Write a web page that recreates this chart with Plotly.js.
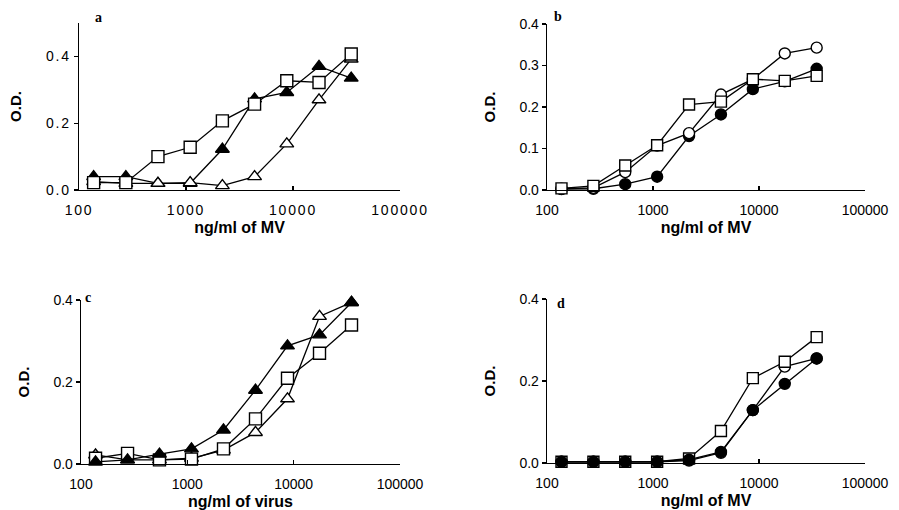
<!DOCTYPE html>
<html>
<head>
<meta charset="utf-8">
<script src="https://cdn.plot.ly/plotly-3.0.1.min.js"></script>
<style>
html,body{margin:0;padding:0;background:#fff;}
#chart{width:899px;height:510px;}
.xtick text, .ytick text { letter-spacing: 1.8px; }
</style>
</head>
<body>
<div id="chart"></div>
<script>
// Shared concentration series (ng/ml)
const conc = [137, 274, 547, 1094, 2188, 4375, 8750, 17500, 35000];
const xTickVals = [100, 1000, 10000, 100000];
const xTickText = ["100", "1000", "10000", "100000"];

// Panel a (ng/ml of MV)
const aOpenSquare   = [0.022, 0.022, 0.100, 0.128, 0.207, 0.257, 0.327, 0.322, 0.407];
const aFilledTri    = [0.040, 0.040, 0.020, 0.020, 0.122, 0.273, 0.292, 0.370, 0.335];
const aOpenTri      = [0.025, 0.020, 0.020, 0.022, 0.013, 0.040, 0.138, 0.270, 0.392];

// Panel b (ng/ml of MV)
const bOpenCircle   = [0.003, 0.005, 0.043, 0.107, 0.137, 0.230, 0.267, 0.329, 0.343];
const bFilledCircle = [0.002, 0.003, 0.014, 0.032, 0.130, 0.182, 0.243, 0.262, 0.292];
const bOpenSquare   = [0.004, 0.010, 0.059, 0.108, 0.206, 0.213, 0.267, 0.263, 0.275];

// Panel c (ng/ml of virus)
const cFilledTri    = [0.005, 0.010, 0.024, 0.037, 0.083, 0.180, 0.288, 0.315, 0.394];
const cOpenTri      = [0.022, 0.010, 0.010, 0.014, 0.034, 0.077, 0.159, 0.360, 0.394];
const cOpenSquare   = [0.014, 0.026, 0.010, 0.012, 0.037, 0.110, 0.209, 0.270, 0.339];

// Panel d (ng/ml of MV)
const dOpenSquare   = [0.003, 0.003, 0.003, 0.003, 0.011, 0.078, 0.207, 0.247, 0.307];
const dOpenCircle   = [0.003, 0.003, 0.003, 0.003, 0.006, 0.025, 0.129, 0.235, 0.255];
const dFilledCircle = [0.003, 0.003, 0.003, 0.003, 0.008, 0.027, 0.129, 0.193, 0.255];

const panelLabels = ["a", "b", "c", "d"];
const xTitles = ["ng/ml of MV", "ng/ml of MV", "ng/ml of virus", "ng/ml of MV"];

function series(y, symbol, filled, xa, ya, size) {
  return {
    x: conc, y: y, xaxis: xa, yaxis: ya,
    type: "scatter", mode: "lines+markers",
    cliponaxis: false, showlegend: false,
    line: {color: "#000", width: 1.3},
    marker: {
      symbol: symbol, size: size,
      color: filled ? "#000" : "#fff",
      line: {color: "#000", width: 1.4}
    }
  };
}

const data = [
  // a
  series(aFilledTri, "triangle-up", true, "x", "y", 12),
  series(aOpenTri, "triangle-up", false, "x", "y", 12),
  series(aOpenSquare, "square", false, "x", "y", 12),
  // b
  series(bFilledCircle, "circle", true, "x2", "y2", 11),
  series(bOpenCircle, "circle", false, "x2", "y2", 11),
  series(bOpenSquare, "square", false, "x2", "y2", 11),
  // c
  series(cOpenTri, "triangle-up", false, "x3", "y3", 12),
  series(cOpenSquare, "square", false, "x3", "y3", 12),
  series(cFilledTri, "triangle-up", true, "x3", "y3", 12),
  // d
  series(dOpenCircle, "circle", false, "x4", "y4", 11),
  series(dOpenSquare, "square", false, "x4", "y4", 11),
  series(dFilledCircle, "circle", true, "x4", "y4", 11)
];

const tickFont = {family: "Liberation Sans, Arial, sans-serif", size: 14, color: "#000"};
const xTitleFont = {family: "Liberation Sans, Arial, sans-serif", size: 16, color: "#000", weight: "bold"};
const yTitleFont = {family: "Liberation Sans, Arial, sans-serif", size: 15, color: "#000", weight: "bold"};

function xAxis(domain, anchor, title) {
  return {
    domain: domain, anchor: anchor, type: "log", range: [2, 5],
    showline: true, linecolor: "#000", linewidth: 1.3,
    showgrid: false, zeroline: false,
    ticks: "inside", ticklen: 4, tickwidth: 1.2, tickcolor: "#000",
    ticklabelstandoff: 7,
    tickvals: xTickVals, ticktext: xTickText, tickfont: tickFont,
    title: {text: title, font: xTitleFont, standoff: 4}
  };
}
function yAxis(domain, anchor, range, tickvals) {
  return {
    domain: domain, anchor: anchor, range: range,
    showline: true, linecolor: "#000", linewidth: 1.3,
    showgrid: false, zeroline: false,
    ticks: "outside", ticklen: 4, tickwidth: 1.2, tickcolor: "#000",
    tickvals: tickvals, tickformat: ".1f", tickfont: tickFont,
    title: {text: "O.D.", font: yTitleFont, standoff: 20}
  };
}

const W = 899, H = 510;
const layout = {
  width: W, height: H,
  margin: {l: 0, r: 0, t: 0, b: 0},
  paper_bgcolor: "#fff", plot_bgcolor: "#fff",
  showlegend: false,
  xaxis:  xAxis([79/W, 400/W], "y", xTitles[0]),
  yaxis:  yAxis([(H-190)/H, (H-23)/H], "x", [0, 0.5], [0, 0.2, 0.4]),
  xaxis2: xAxis([547/W, 865/W], "y2", xTitles[1]),
  yaxis2: yAxis([(H-190)/H, (H-24)/H], "x2", [0, 0.4], [0, 0.1, 0.2, 0.3, 0.4]),
  xaxis3: xAxis([81/W, 400/W], "y3", xTitles[2]),
  yaxis3: yAxis([(H-464)/H, (H-300)/H], "x3", [0, 0.4], [0, 0.2, 0.4]),
  xaxis4: xAxis([547/W, 865/W], "y4", xTitles[3]),
  yaxis4: yAxis([(H-463)/H, (H-299)/H], "x4", [0, 0.4], [0, 0.2, 0.4]),
  annotations: [
    {x: 98/W, y: 1 - 18/H, text: panelLabels[0]},
    {x: 558/W, y: 1 - 17/H, text: panelLabels[1]},
    {x: 88/W, y: 1 - 297/H, text: panelLabels[2]},
    {x: 561/W, y: 1 - 303/H, text: panelLabels[3]}
  ].map(a => Object.assign(a, {
    xref: "paper", yref: "paper", showarrow: false,
    xanchor: "center", yanchor: "middle",
    font: {family: "Liberation Serif, Times New Roman, serif", size: 14, color: "#000", weight: "bold"}
  }))
};

Plotly.newPlot("chart", data, layout, {displayModeBar: false, staticPlot: true});
</script>
</body>
</html>
